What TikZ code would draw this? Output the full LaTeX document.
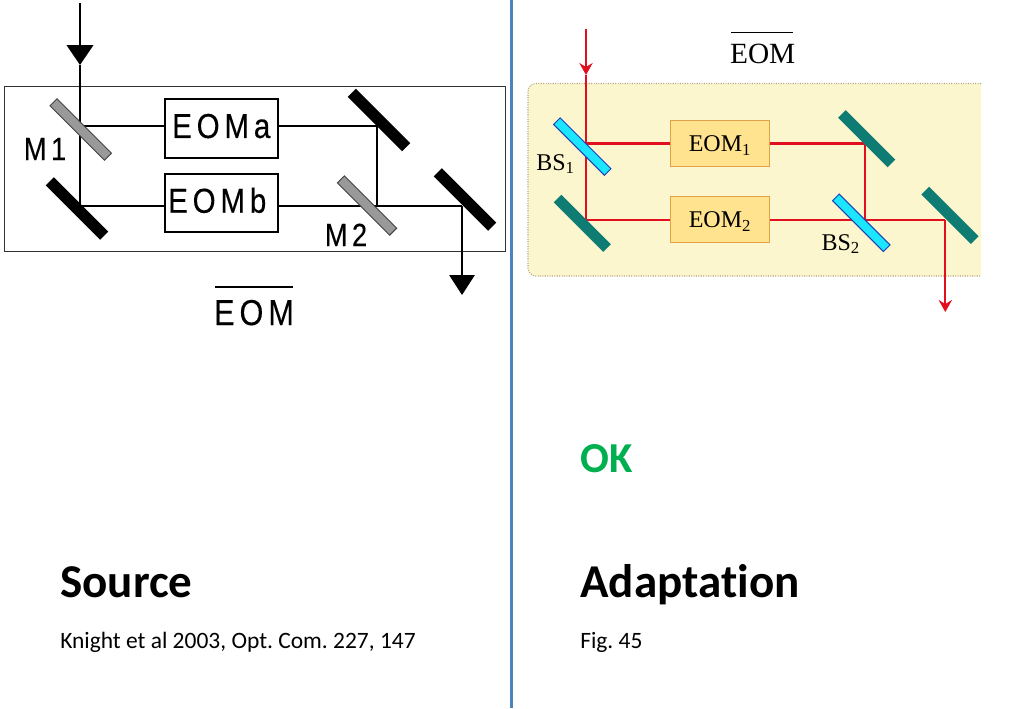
\documentclass[tikz,border=0pt]{standalone}
\usepackage{fontspec}
\usetikzlibrary{arrows.meta}
\setmainfont{Liberation Serif}
\newfontfamily\arialfont[FakeStretch=0.85,LetterSpace=14,FakeBold=0.3]{Liberation Sans}
\newfontfamily\calibrifont[Ligatures=CommonOff]{Carlito}
\frenchspacing
\definecolor{dividerblue}{HTML}{4F81BD}
\definecolor{beamred}{HTML}{E2101E}
\definecolor{panelyellow}{HTML}{FCF6CF}
\definecolor{paneledge}{HTML}{B5A67C}
\definecolor{boxyellow}{HTML}{FFE38F}
\definecolor{boxedge}{HTML}{E3A24A}
\definecolor{mirrorteal}{HTML}{0F7C74}
\definecolor{mirrorcyan}{HTML}{1CE6FF}
\definecolor{mirroredge}{HTML}{1A3FB5}
\definecolor{okgreen}{HTML}{00B050}
\tikzset{
  blackbeam/.style={black, line width=1.5pt},
  redbeam/.style={beamred, line width=1.7pt},
  blackmirror/.style={fill=black, rotate=-45, inner sep=0pt, minimum height=8.6pt},
  graymirror/.style={fill=black!40, draw=black!75, line width=0.7pt, rotate=-45, inner sep=0pt, minimum height=7.4pt},
  tealmirror/.style={fill=mirrorteal, rotate=-45, inner sep=0pt, minimum height=8.2pt},
  cyanmirror/.style={fill=mirrorcyan, draw=mirroredge, line width=0.7pt, rotate=-45, inner sep=0pt, minimum height=7pt},
  sourcebox/.style={draw=black, line width=1.5pt, inner sep=0pt, minimum width=85pt, minimum height=44pt, text height=14.6pt, text depth=0pt, font=\arialfont\fontsize{26}{26}\selectfont},
  adaptbox/.style={draw=boxedge, fill=boxyellow, line width=0.8pt, inner sep=0pt, minimum width=74pt, minimum height=34.5pt, text height=12.3pt, text depth=0pt, font=\fontsize{18}{18}\selectfont},
  sourcelabel/.style={anchor=base, inner sep=0pt, font=\arialfont\fontsize{24}{24}\selectfont},
  adaptlabel/.style={anchor=base west, inner sep=0pt, font=\fontsize{18}{18}\selectfont},
  heading/.style={anchor=base west, inner sep=0pt, font=\calibrifont\bfseries\fontsize{35.3}{35.3}\selectfont},
  caption/.style={anchor=base west, inner sep=0pt, font=\calibrifont\fontsize{17.6}{17.6}\selectfont}
}
\begin{document}
\begin{tikzpicture}[x=0.75pt, y=-0.75pt]
\useasboundingbox (0,0) rectangle (1023,708);

% Scheidingslijn
\draw[dividerblue, line width=2.2pt] (511.5,0) -- (511.5,708);

% Bron: links
\draw[black!80, line width=0.8pt] (4.5,86.5) rectangle (505.5,251.5);
\node[sourcebox] (eoma) at (221.25,128.25) {EOMa};
\node[sourcebox] (eomb) at (221.25,203) {EOMb\kern 6pt};

\coordinate (inL) at (80,3);
\coordinate (tipL) at (80,65);
\coordinate (splitL) at (80,126);
\coordinate (foldL) at (80,206);
\coordinate (upperL) at (377,126);
\coordinate (mergeL) at (377,206);
\coordinate (exitL) at (462,206);
\coordinate (outL) at (462,295);

\draw[blackbeam, -{Triangle[length=15pt, width=20pt]}] (inL) -- (tipL);
\draw[blackbeam] (tipL) -- (splitL) -- (foldL) -- (foldL -| eomb.west);
\draw[blackbeam] (splitL) -- (splitL -| eoma.west);
\draw[blackbeam] (upperL -| eoma.east) -- (upperL) -- (mergeL);
\draw[blackbeam] (mergeL -| eomb.east) -- (mergeL) -- (exitL);
\draw[blackbeam, -{Triangle[length=15pt, width=19pt]}] (exitL) -- (outL);

% Spiegels links
\foreach \name/\x/\y/\len in {mirrorLa/77/208.5/77, mirrorLb/379/120/77, mirrorLc/465/199.5/77} {
  \node[blackmirror, minimum width=\len*0.75pt] (\name) at (\x,\y) {};
}
\foreach \name/\x/\y/\len in {splitterLa/80.75/129.5/77, splitterLb/367/205.5/74} {
  \node[graymirror, minimum width=\len*0.75pt] (\name) at (\x,\y) {};
}

\node[sourcelabel] (m1) at (45,160) {M1};
\node[sourcelabel] (m2) at (346,246) {M2};
\node[sourcelabel, font=\arialfont\fontsize{27}{27}\selectfont] (eomL) at (254,325) {EOM};
\draw[black, line width=1.5pt] (215,287) -- (293,287);

% Bewerking: rechts
\draw[paneledge, densely dotted, line width=0.8pt, fill=panelyellow, rounded corners=6pt] (981,83.5) -- (528,83.5) -- (528,276) -- (981,276);
\node[adaptbox] (eom1) at (720,143.5) {EOM\textsubscript{1}};
\node[adaptbox] (eom2) at (720,219.7) {EOM\textsubscript{2}};

\coordinate (inR) at (586,29);
\coordinate (tipR) at (586,75);
\coordinate (splitR) at (586,143.5);
\coordinate (foldR) at (586,219.7);
\coordinate (upperR) at (864.7,143.5);
\coordinate (mergeR) at (864.7,219.7);
\coordinate (exitR) at (945.3,219.7);
\coordinate (outR) at (945.3,312);

\draw[redbeam, -{Stealth[length=9pt, width=10pt, inset=3pt]}] (inR) -- (tipR);
\draw[redbeam] (tipR) -- (splitR) -- (foldR) -- (eom2.west);
\draw[redbeam] (splitR) -- (eom1.west);
\draw[redbeam] (eom1.east) -- (upperR) -- (mergeR);
\draw[redbeam] (eom2.east) -- (mergeR) -- (exitR);
\draw[redbeam, -{Stealth[length=9pt, width=10pt, inset=3pt]}] (exitR) -- (outR);

% Spiegels rechts
\foreach \name/\x/\y/\len in {mirrorRa/582.3/223.3/70, mirrorRb/866.7/138.7/70, mirrorRc/950/215.3/70} {
  \node[tealmirror, minimum width=\len*0.75pt] (\name) at (\x,\y) {};
}
\foreach \name/\x/\y/\len in {splitterRa/582.3/146.6/72, splitterRb/861.3/222.8/72} {
  \node[cyanmirror, minimum width=\len*0.75pt] (\name) at (\x,\y) {};
}

\node[adaptlabel] (bs1) at (536,170) {BS\textsubscript{1}};
\node[adaptlabel] (bs2) at (821.3,250) {BS\textsubscript{2}};
\node[anchor=base, inner sep=0pt, font=\fontsize{22}{22}\selectfont] (eomR) at (762.7,63.3) {EOM};
\draw[black, line width=1.2pt] (731,32.3) -- (793,32.3);

% Onderschriften
\node[heading, text=okgreen, font=\calibrifont\bfseries\fontsize{32}{32}\selectfont] (verdict) at (580,472) {OK};
\node[heading] (source) at (60,597) {Source};
\node[heading] (adaptation) at (580,597) {Adaptation};
\node[caption] (citation) at (60,648) {Knight et al 2003, Opt. Com. 227, 147};
\node[caption] (figure) at (580,648) {Fig. 45};
\end{tikzpicture}
\end{document}
